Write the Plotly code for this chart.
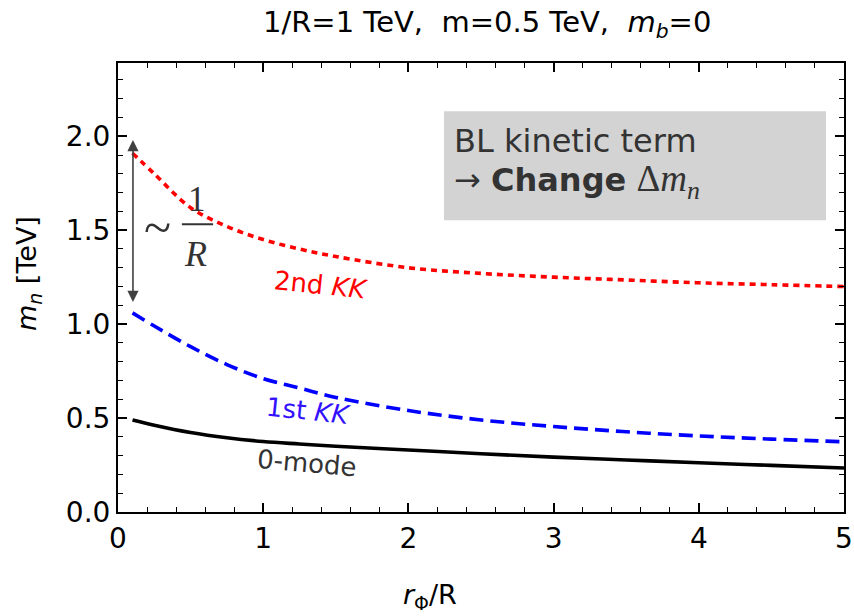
import plotly.graph_objects as go

# r_phi / R sample points
r_phi = [0.1, 0.25, 0.5, 0.75, 1.0, 1.25, 1.5, 2.0, 2.5, 3.0, 3.5, 4.0, 4.5, 5.0]

# mass eigenvalues m_n [TeV]
m_zero = [0.490, 0.462, 0.423, 0.395, 0.375, 0.362, 0.350, 0.330, 0.310, 0.292, 0.277, 0.262, 0.248, 0.234]
m_first = [1.060, 0.990, 0.880, 0.785, 0.710, 0.660, 0.610, 0.540, 0.490, 0.455, 0.427, 0.405, 0.388, 0.374]
m_second = [1.910, 1.800, 1.620, 1.520, 1.450, 1.400, 1.360, 1.300, 1.270, 1.250, 1.235, 1.220, 1.210, 1.200]

x_ticks = [0, 1, 2, 3, 4, 5]
y_ticks = [0.0, 0.5, 1.0, 1.5, 2.0]
y_tick_text = ["0.0", "0.5", "1.0", "1.5", "2.0"]

SANS = "DejaVu Sans, Liberation Sans, Arial, sans-serif"
MATH = "Liberation Serif, Times New Roman, serif"
INK = "#333333"

fig = go.Figure()

fig.add_trace(go.Scatter(
    x=r_phi, y=m_second, mode="lines", line_shape="spline",
    line=dict(color="#ff0000", width=3.6, dash="6px,5px"), hoverinfo="skip"))
fig.add_trace(go.Scatter(
    x=r_phi, y=m_first, mode="lines", line_shape="spline",
    line=dict(color="#0000ff", width=3.6, dash="14px,7px"), hoverinfo="skip"))
fig.add_trace(go.Scatter(
    x=r_phi, y=m_zero, mode="lines", line_shape="spline",
    line=dict(color="#000000", width=3.6), hoverinfo="skip"))

axis_common = dict(
    showline=True, linecolor="black", linewidth=2, mirror="allticks",
    ticks="inside", ticklen=9, tickwidth=1.5, tickcolor="black",
    showgrid=False, zeroline=False, automargin=False,
    tickfont=dict(family=SANS, size=28, color="black"),
)

fig.update_xaxes(
    range=[0, 5], tickvals=x_ticks,
    minor=dict(dtick=0.2, ticks="inside", ticklen=5, tickwidth=1.2, tickcolor="black"),
    **axis_common)
fig.update_yaxes(
    range=[0, 2.39], tickvals=y_ticks, ticktext=y_tick_text,
    minor=dict(dtick=0.1, ticks="inside", ticklen=5, tickwidth=1.2, tickcolor="black"),
    **axis_common)

# shaded note box
fig.add_shape(type="rect", xref="x", yref="y", x0=2.245, x1=4.876, y0=1.553, y1=2.133,
              fillcolor="#d3d3d3", line=dict(width=0), layer="below")

# fraction bar of ~1/R
fig.add_shape(type="line", xref="x", yref="y", x0=0.44, x1=0.655, y0=1.532, y1=1.532,
              line=dict(color=INK, width=2))

annotations = [
    # title
    dict(text="1/R=1 TeV,\u00a0\u00a0m=0.5 TeV,\u00a0\u00a0<i>m</i><sub><i>b</i></sub>=0",
         xref="paper", yref="paper", x=0.508, y=1.0, yshift=39, showarrow=False,
         xanchor="center", yanchor="middle", font=dict(family=SANS, size=29, color="black")),
    # axis titles
    dict(text="<i>r</i><sub>Φ</sub>/R", xref="paper", yref="paper", x=0.43, y=0, yshift=-84,
         showarrow=False, xanchor="center", yanchor="middle",
         font=dict(family=SANS, size=27, color="black")),
    dict(text="<i>m</i><sub><i>n</i></sub> [TeV]", xref="paper", yref="paper", x=0, xshift=-90,
         y=0.53, textangle=-90, showarrow=False, xanchor="center", yanchor="middle",
         font=dict(family=SANS, size=27, color="black")),
    # curve labels
    dict(text="2nd <i>KK</i>", x=1.40, y=1.21, showarrow=False, textangle=6,
         font=dict(family=SANS, size=26, color="#ff0000")),
    dict(text="1st <i>KK</i>", x=1.315, y=0.537, showarrow=False, textangle=6,
         font=dict(family=SANS, size=26, color="#3311ff")),
    dict(text="0-mode", x=1.30, y=0.26, showarrow=False, textangle=5,
         font=dict(family=SANS, size=26, color=INK)),
    # note box text
    dict(text="BL kinetic term", x=2.30, y=1.975, xanchor="left", yanchor="middle",
         showarrow=False, font=dict(family=SANS, size=32, color=INK)),
    dict(text="\u2192 <b>Change</b> <span style=\"font-family:'Liberation Serif';font-size:37px\">Δ<i>m</i><sub><i>n</i></sub></span>",
         x=2.30, y=1.76, xanchor="left", yanchor="middle",
         showarrow=False, font=dict(family=SANS, size=32, color=INK)),
    # double-headed arrow spanning the KK gap
    dict(text="", x=0.103, y=1.98, ax=0.103, ay=1.11, xref="x", yref="y", axref="x", ayref="y",
         showarrow=True, arrowside="end+start", arrowhead=2, arrowsize=1.4, arrowwidth=1.6,
         arrowcolor="#404040", standoff=0, startstandoff=0),
    # ~ 1/R
    dict(text="~", x=0.27, y=1.516, showarrow=False,
         font=dict(family=MATH, size=50, color=INK)),
    dict(text="1", x=0.542, y=1.665, showarrow=False,
         font=dict(family=MATH, size=35, color=INK)),
    dict(text="<i>R</i>", x=0.537, y=1.375, showarrow=False,
         font=dict(family=MATH, size=36, color=INK)),
]
fig.update_layout(annotations=annotations)

fig.update_layout(
    width=854, height=616,
    margin=dict(l=118, r=10, t=63, b=104),
    paper_bgcolor="white", plot_bgcolor="white",
    showlegend=False,
)

fig.write_html("out.html")
